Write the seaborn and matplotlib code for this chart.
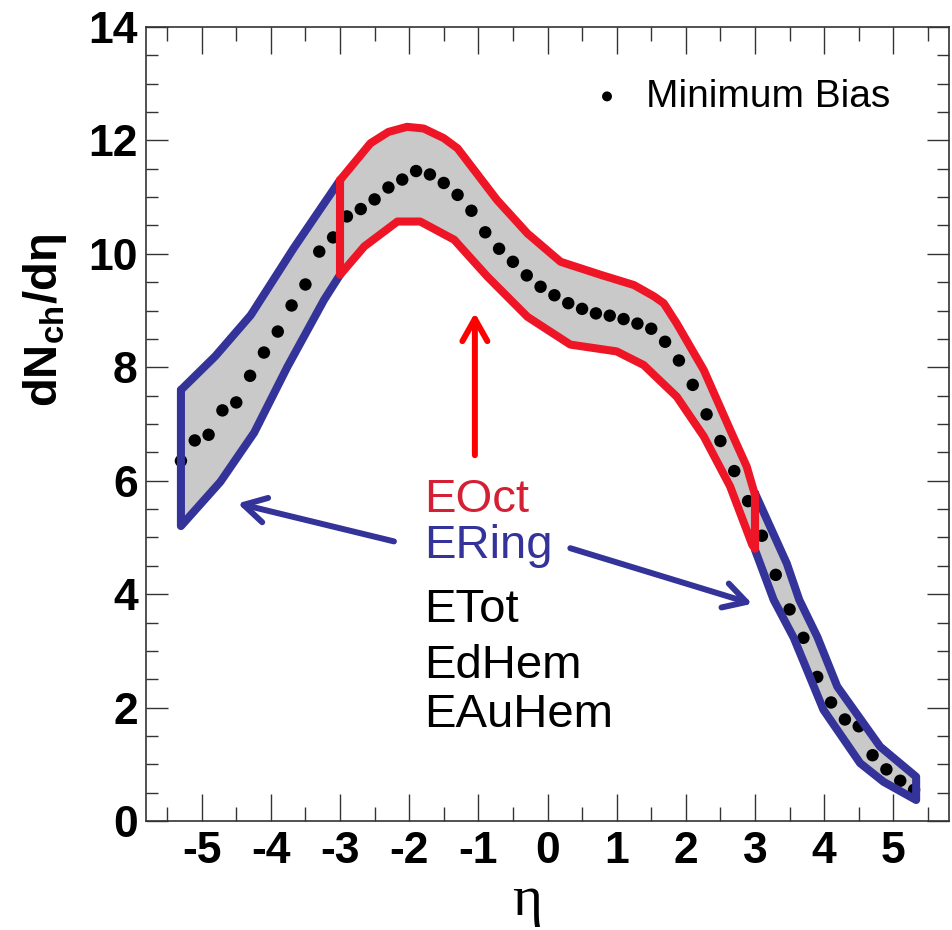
import numpy as np
import pandas as pd
import matplotlib
matplotlib.use("Agg")
import matplotlib.pyplot as plt
from matplotlib.ticker import MultipleLocator
import seaborn as sns

# Minimum-bias dN_ch/deta
eta = [-5.3, -5.1, -4.9, -4.7, -4.5, -4.3, -4.1, -3.9, -3.7, -3.5,
       -3.3, -3.1, -2.9, -2.7, -2.5, -2.3, -2.1, -1.9, -1.7, -1.5,
       -1.3, -1.1, -0.9, -0.7, -0.5, -0.3, -0.1, 0.1, 0.3, 0.5,
       0.7, 0.9, 1.1, 1.3, 1.5, 1.7, 1.9, 2.1, 2.3, 2.5,
       2.7, 2.9, 3.1, 3.3, 3.5, 3.7, 3.9, 4.1, 4.3, 4.5,
       4.7, 4.9, 5.1, 5.3]
dndeta = [6.35, 6.71, 6.81, 7.24, 7.38, 7.85, 8.26, 8.63, 9.09, 9.46,
          10.04, 10.29, 10.66, 10.79, 10.96, 11.17, 11.31, 11.46, 11.40, 11.25,
          11.04, 10.76, 10.38, 10.09, 9.86, 9.62, 9.42, 9.27, 9.13, 9.03,
          8.95, 8.91, 8.85, 8.77, 8.68, 8.45, 8.12, 7.69, 7.17, 6.70,
          6.17, 5.64, 5.03, 4.34, 3.73, 3.23, 2.54, 2.09, 1.79, 1.67,
          1.16, 0.91, 0.71, 0.55]

# ERing acceptance, backward side
ring_bwd_eta_up = [-5.3, -4.8, -4.29, -3.67, -3.33, -3.0]
ring_bwd_up = [7.6, 8.2, 8.92, 10.1, 10.71, 11.3]
ring_bwd_eta_lo = [-5.3, -4.73, -4.24, -3.76, -3.23, -3.0]
ring_bwd_lo = [5.2, 5.98, 6.85, 8.01, 9.19, 9.63]

# EOct acceptance, central
oct_eta_up = [-3.0, -2.56, -2.3, -2.03, -1.79, -1.5, -1.3, -0.73, -0.29,
              0.19, 0.77, 1.25, 1.54, 1.68, 1.87, 2.26, 2.64, 2.88, 3.0]
oct_up = [11.3, 11.95, 12.15, 12.24, 12.21, 12.04, 11.86, 10.95, 10.36,
          9.86, 9.63, 9.45, 9.25, 9.13, 8.77, 7.95, 6.90, 6.25, 5.75]
oct_eta_lo = [-3.0, -2.65, -2.17, -1.84, -1.35, -0.87, -0.29, 0.33, 1.0,
              1.39, 1.87, 2.26, 2.64, 2.96, 3.0]
oct_lo = [9.63, 10.13, 10.57, 10.57, 10.25, 9.6, 8.89, 8.40, 8.28,
          8.04, 7.48, 6.78, 5.90, 4.87, 4.8]

# ERing acceptance, forward side
ring_fwd_eta_up = [3.0, 3.46, 3.64, 3.9, 4.19, 4.81, 5.33]
ring_fwd_up = [5.78, 4.54, 3.9, 3.25, 2.37, 1.31, 0.78]
ring_fwd_eta_lo = [3.0, 3.27, 3.56, 3.99, 4.52, 4.86, 5.33]
ring_fwd_lo = [4.78, 3.9, 3.23, 1.96, 1.02, 0.69, 0.37]

estimators = ["EOct", "ERing", "ETot", "EdHem", "EAuHem"]
estimator_colors = ["#D42035", "#333399", "black", "black", "black"]

RED = "#EE1526"
BLUE = "#333399"
GREY = "#C9C9C9"

sns.set_theme(style="ticks")
plt.rcParams["font.family"] = ["Liberation Sans", "DejaVu Sans"]
plt.rcParams["axes.unicode_minus"] = False
plt.rcParams["mathtext.fontset"] = "custom"
plt.rcParams["mathtext.rm"] = "Liberation Sans:bold"
plt.rcParams["mathtext.bf"] = "Liberation Sans:bold"
plt.rcParams["text.color"] = "black"
plt.rcParams["axes.labelcolor"] = "black"

fig = plt.figure(figsize=(9.52, 9.30), dpi=100)
ax = fig.add_axes([146 / 952, 109 / 930, 803 / 952, 794 / 930])

regions = [
    (ring_bwd_eta_up, ring_bwd_up, ring_bwd_eta_lo, ring_bwd_lo, BLUE),
    (ring_fwd_eta_up, ring_fwd_up, ring_fwd_eta_lo, ring_fwd_lo, BLUE),
    (oct_eta_up, oct_up, oct_eta_lo, oct_lo, RED),
]

# grey acceptance bands
for xu, yu, xl, yl, _ in regions:
    px = np.concatenate([xu, xl[::-1]])
    py = np.concatenate([yu, yl[::-1]])
    ax.fill(px, py, facecolor=GREY, edgecolor="none", zorder=1)

df = pd.DataFrame({"eta": eta, "dndeta": dndeta})
sns.scatterplot(data=df, x="eta", y="dndeta", color="black", s=80,
                edgecolor="none", label="Minimum Bias", zorder=2, ax=ax)

# coloured outlines on top of the points
for xu, yu, xl, yl, col in regions:
    px = np.concatenate([xu, xl[::-1], xu[:1]])
    py = np.concatenate([yu, yl[::-1], yu[:1]])
    ax.plot(px, py, color=col, lw=5.8, solid_joinstyle="round",
            solid_capstyle="round", zorder=3)

# estimator labels
text_x = -1.79
text_y = [5.45, 4.64, 3.51, 2.52, 1.66]
for name, col, ty in zip(estimators, estimator_colors, text_y):
    ax.text(text_x, ty, name, color=col, fontsize=34, ha="left",
            va="baseline", zorder=4)

arrow_kw = dict(shrinkA=0, shrinkB=0, mutation_scale=20,
                capstyle="round", joinstyle="round")
ax.annotate("", xy=(-1.05, 8.96), xytext=(-1.05, 6.45), zorder=4,
            arrowprops=dict(arrowstyle="->,head_length=0.8,head_width=0.45",
                            color="#FF0000", lw=4.3, **arrow_kw))
ax.annotate("", xy=(-4.48, 5.6), xytext=(-2.22, 4.93), zorder=4,
            arrowprops=dict(arrowstyle="->,head_length=0.8,head_width=0.45",
                            color=BLUE, lw=4.3, **arrow_kw))
ax.annotate("", xy=(2.96, 3.83), xytext=(0.33, 4.81), zorder=4,
            arrowprops=dict(arrowstyle="->,head_length=0.8,head_width=0.45",
                            color=BLUE, lw=4.3, **arrow_kw))

# axes styling
ax.set_xlim(-5.805, 5.805)
ax.set_ylim(0, 14)
ax.set_xticks(range(-5, 6))
ax.set_yticks(range(0, 15, 2))
ax.xaxis.set_minor_locator(MultipleLocator(0.5))
ax.yaxis.set_minor_locator(MultipleLocator(0.5))
ax.tick_params(axis="both", which="both", direction="in", top=True,
               right=True, color="#333333", width=1.0, labelcolor="black")
ax.tick_params(axis="x", which="major", length=19.5, pad=7, labelsize=32)
ax.tick_params(axis="x", which="minor", length=10)
ax.tick_params(axis="y", which="major", length=16, pad=6, labelsize=32)
ax.tick_params(axis="y", which="minor", length=8.5)
for lab in ax.get_xticklabels() + ax.get_yticklabels():
    lab.set_fontweight("bold")
for sp in ax.spines.values():
    sp.set_color("#333333")
    sp.set_linewidth(1.2)

ax.set_ylabel(r"dN$_{\mathrm{ch}}$/dη", fontsize=34, fontweight="bold")
ax.yaxis.set_label_coords(-0.126, 0.63)
ax.yaxis.label.set_va("center")
ax.set_xlabel("η", fontsize=41, family=["Liberation Serif", "DejaVu Serif"])
ax.xaxis.set_label_coords(0.474, -0.118)
ax.xaxis.label.set_va("baseline")

leg = ax.legend(loc="upper left", bbox_to_anchor=(0.562, 0.935),
                frameon=False, fontsize=28, handlelength=0.5,
                handletextpad=0.75, borderaxespad=0, borderpad=0,
                markerscale=0.8)
for t in leg.get_texts():
    t.set_color("black")

fig.savefig("out.png", dpi=100)
